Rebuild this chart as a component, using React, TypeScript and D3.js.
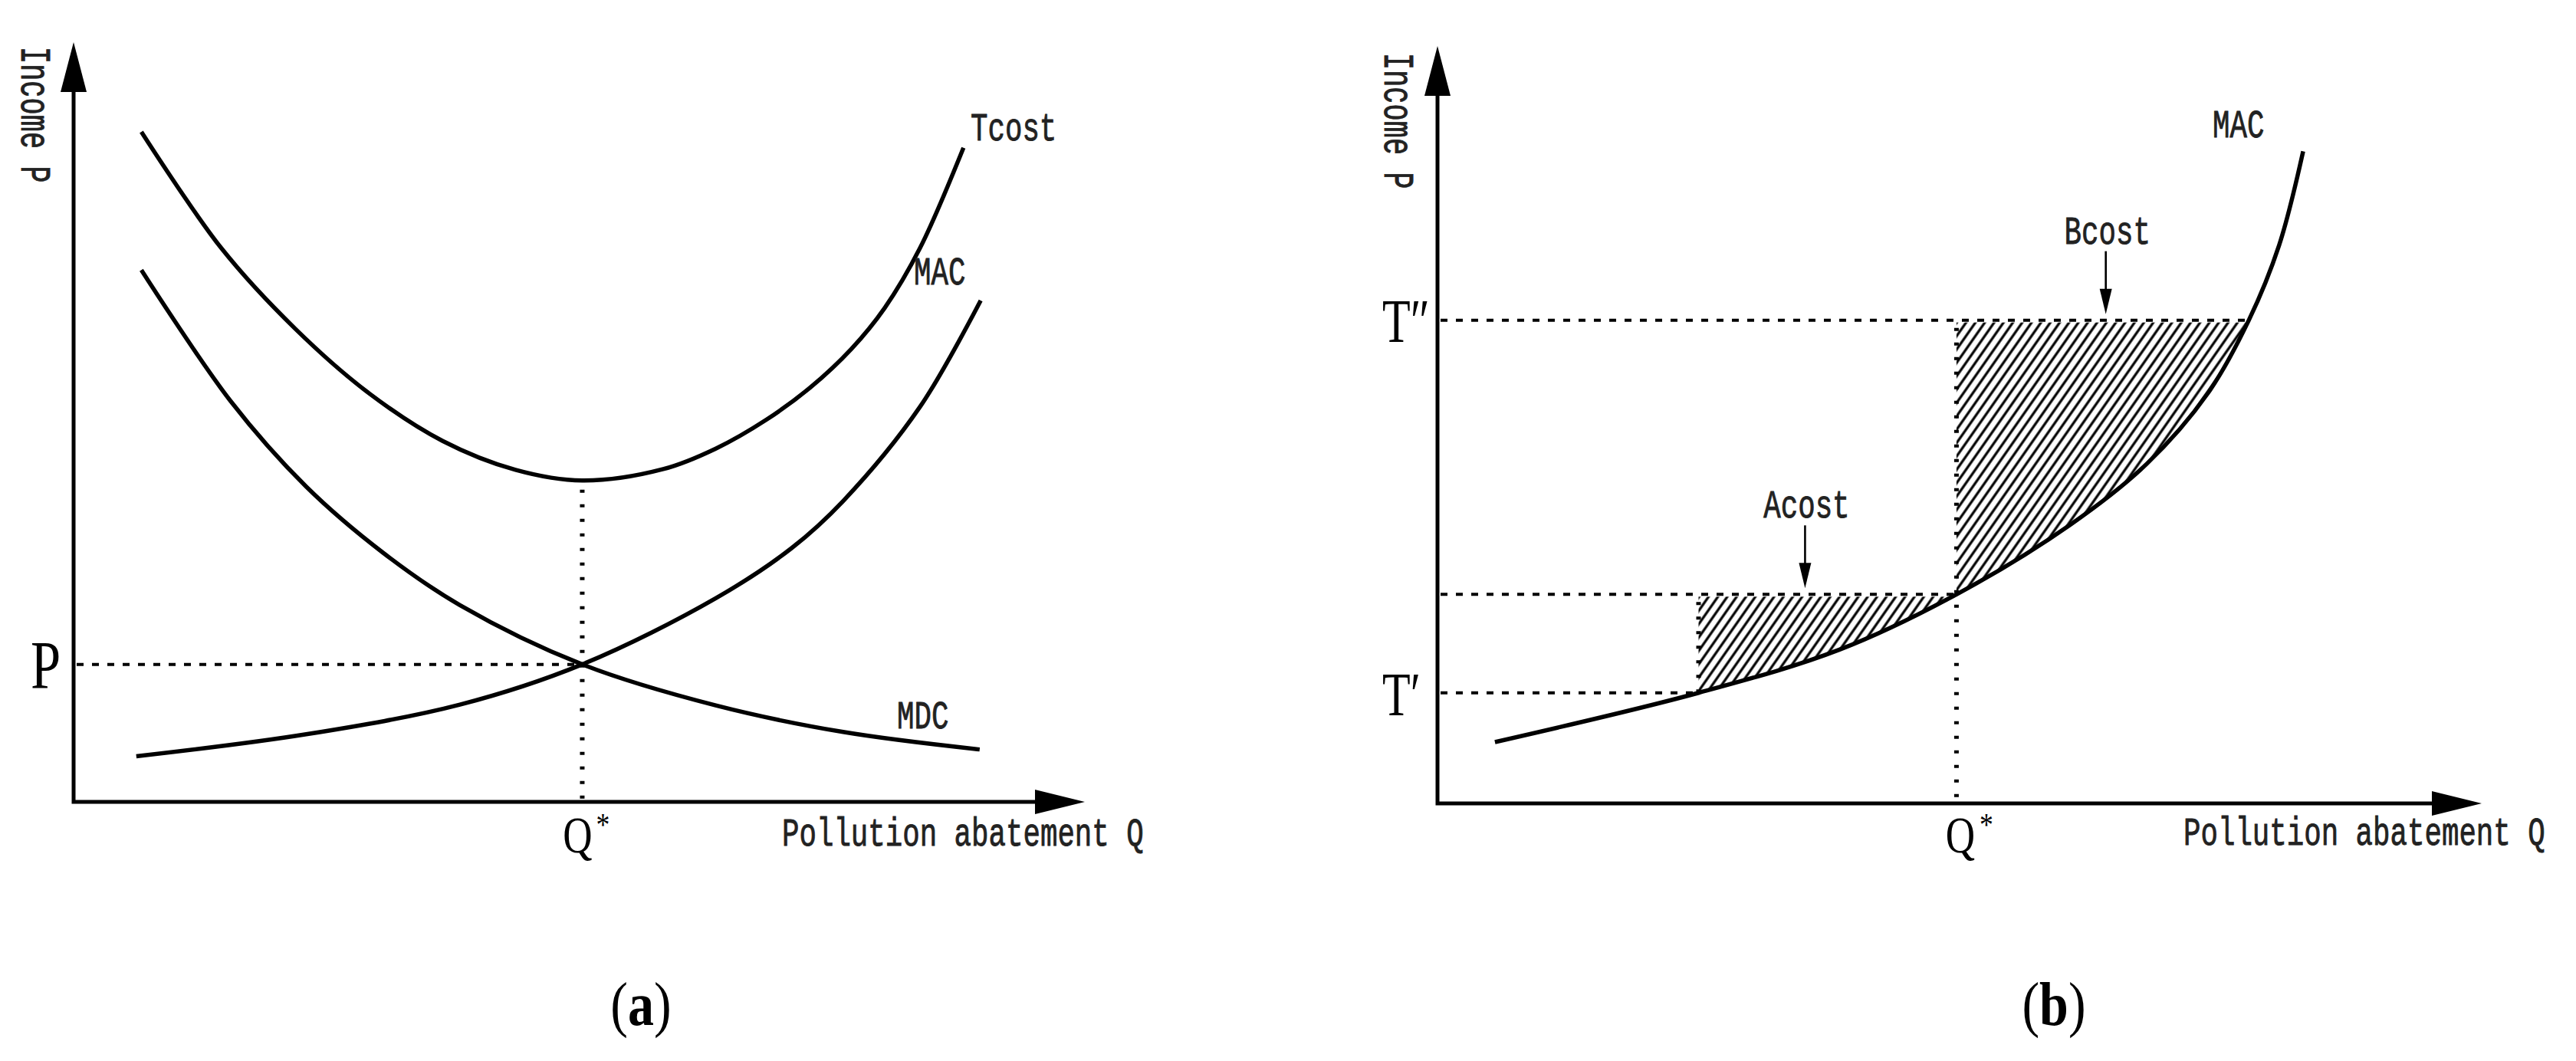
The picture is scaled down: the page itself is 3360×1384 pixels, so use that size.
import React from 'react';
import * as d3 from 'd3';

const W = 3360;
const H = 1384;

// ---------- Panel (a) data (Q: 0-100 along axis, P: 0-100 up axis) ----------
const tcostA = [
  { q: 6.7, p: 88.2 }, { q: 14.6, p: 72.9 }, { q: 21.9, p: 62.3 }, { q: 29.2, p: 53.8 },
  { q: 36.5, p: 47.5 }, { q: 43.7, p: 43.7 }, { q: 50.3, p: 42.3 }, { q: 58.3, p: 43.8 },
  { q: 63.5, p: 46.5 }, { q: 68.5, p: 50.3 }, { q: 72.9, p: 54.6 }, { q: 76.9, p: 59.6 },
  { q: 80.2, p: 65.0 }, { q: 83.7, p: 72.9 }, { q: 88.0, p: 86.1 },
];
const macA = [
  { q: 6.2, p: 6.0 }, { q: 23.0, p: 8.9 }, { q: 38.2, p: 12.8 }, { q: 50.3, p: 18.1 },
  { q: 63.5, p: 26.8 }, { q: 71.0, p: 33.4 }, { q: 76.1, p: 39.6 }, { q: 83.7, p: 52.0 },
  { q: 89.7, p: 66.0 },
];
const mdcA = [
  { q: 6.7, p: 70.0 }, { q: 15.5, p: 52.8 }, { q: 23.0, p: 41.5 }, { q: 30.6, p: 32.8 },
  { q: 38.2, p: 25.9 }, { q: 50.3, p: 18.1 }, { q: 63.5, p: 12.7 }, { q: 76.1, p: 9.2 },
  { q: 89.6, p: 6.9 },
];
const qStarA = 50.3;
const pStarA = 18.1;
const tcostMinA = 42.3;

// ---------- Panel (b) data ----------
const macB = [
  { q: 5.5, p: 8.1 }, { q: 25.0, p: 14.6 }, { q: 38.5, p: 20.3 }, { q: 49.7, p: 27.6 },
  { q: 60.6, p: 36.8 }, { q: 67.9, p: 44.8 }, { q: 73.8, p: 54.2 }, { q: 77.7, p: 63.8 },
  { q: 80.6, p: 73.7 }, { q: 82.9, p: 86.1 },
];
const tPrimeB = { q: 25.0, p: 14.6 };
const qStarB = { q: 49.7, p: 27.6 };
const tDoubleB = { q: 77.7, p: 63.8 };
const costAreas = [
  { label: 'Acost', from: tPrimeB, to: qStarB, arrowQ: 35.2 },
  { label: 'Bcost', from: qStarB, to: tDoubleB, arrowQ: 64.0 },
];

const frameA = { x0: 96, x1: 1415, y0: 1046, y1: 55 };
const frameB = { x0: 1875, x1: 3237, y0: 1048, y1: 60 };

const MONO = '"Liberation Mono", "DejaVu Sans Mono", monospace';
const SERIF = '"Liberation Serif", "DejaVu Serif", serif';
const CURVE_FACTORY = d3.curveCatmullRom.alpha(0.5);

type TxtProps = {
  x: number; y: number; size: number; sx?: number; family?: string; weight?: string | number;
  anchor?: 'start' | 'middle' | 'end'; rotate?: number; fill?: string; thick?: number; children: React.ReactNode;
};
function Txt({ x, y, size, sx = 0.72, family = MONO, weight = 'normal', anchor = 'start', rotate = 0, fill = '#222', thick = 0.9, children }: TxtProps) {
  return (
    <text
      transform={`translate(${x},${y}) rotate(${rotate}) scale(${sx},1)`}
      fontFamily={family}
      fontSize={size}
      fontWeight={weight}
      textAnchor={anchor}
      fill={fill}
      stroke={thick > 0 ? fill : 'none'}
      strokeWidth={thick}
    >
      {children}
    </text>
  );
}

function Axes({ x, y }: { x: d3.ScaleLinear<number, number>; y: d3.ScaleLinear<number, number> }) {
  const ah = 65, aw = 17;
  return (
    <g>
      <path
        d={`M${x(0)},${y(100) + ah - 4} V${y(0)} H${x(100) - ah + 4}`}
        fill="none" stroke="#000" strokeWidth={5} strokeLinejoin="miter"
      />
      <polygon points={`${x(0)},${y(100)} ${x(0) - aw},${y(100) + ah} ${x(0) + aw},${y(100) + ah}`} fill="#000" />
      <polygon points={`${x(100)},${y(0)} ${x(100) - ah},${y(0) - aw + 1} ${x(100) - ah},${y(0) + aw - 1}`} fill="#000" />
    </g>
  );
}

const DASH_H = { stroke: '#000', strokeWidth: 4, strokeDasharray: '9 11' };
const DOT_V = { stroke: '#000', strokeWidth: 6, strokeDasharray: '4 15' };
const CURVE = { fill: 'none', stroke: '#000', strokeWidth: 5.5 };

function PanelA() {
  const x = d3.scaleLinear([0, 100], [frameA.x0, frameA.x1]);
  const y = d3.scaleLinear([0, 100], [frameA.y0, frameA.y1]);
  const line = d3.line<{ q: number; p: number }>().x(d => x(d.q)).y(d => y(d.p)).curve(CURVE_FACTORY);
  return (
    <g>
      <line x1={x(0) + 4} x2={x(qStarA)} y1={y(pStarA)} y2={y(pStarA)} {...DASH_H} />
      <line x1={x(qStarA)} x2={x(qStarA)} y1={y(tcostMinA) + 12} y2={y(0)} {...DOT_V} />
      <path d={line(tcostA) || ''} {...CURVE} />
      <path d={line(macA) || ''} {...CURVE} />
      <path d={line(mdcA) || ''} {...CURVE} />
      <Axes x={x} y={y} />
      <Txt x={28} y={61} size={56} rotate={90} sx={0.66}>Income P</Txt>
      <Txt x={1266} y={183} size={52}>Tcost</Txt>
      <Txt x={1192} y={371} size={52}>MAC</Txt>
      <Txt x={1170} y={950} size={52}>MDC</Txt>
      <Txt x={1020} y={1103} size={52}>Pollution abatement Q</Txt>
      <Txt x={40} y={y(pStarA) + 30} size={88} sx={0.8} family={SERIF} fill="#000" thick={0}>P</Txt>
      <Txt x={x(qStarA) - 6} y={1112} size={68} sx={0.78} family={SERIF} anchor="middle" fill="#000" thick={0}>Q</Txt>
      <Txt x={x(qStarA) + 18} y={1090} size={42} sx={0.85} family={SERIF} fill="#000" thick={0}>*</Txt>
      <Txt x={836} y={1337} size={80} sx={0.85} family={SERIF} anchor="middle" fill="#000" thick={0}>
        (<tspan fontWeight="bold">a</tspan>)
      </Txt>
    </g>
  );
}

function PanelB() {
  const x = d3.scaleLinear([0, 100], [frameB.x0, frameB.x1]);
  const y = d3.scaleLinear([0, 100], [frameB.y0, frameB.y1]);
  const line = d3.line<{ q: number; p: number }>().x(d => x(d.q)).y(d => y(d.p)).curve(CURVE_FACTORY);
  const above = d3.area<{ q: number; p: number }>().x(d => x(d.q)).y0(d => y(d.p)).y1(y(100)).curve(CURVE_FACTORY);
  return (
    <g>
      <defs>
        <pattern id="hatch" patternUnits="userSpaceOnUse" width={10} height={10} patternTransform="rotate(35)">
          <line x1={2} y1={0} x2={2} y2={10} stroke="#000" strokeWidth={3.2} />
        </pattern>
        <clipPath id="aboveMacB">
          <path d={above(macB) || ''} />
        </clipPath>
      </defs>
      {costAreas.map(c => (
        <rect
          key={c.label}
          x={x(c.from.q)} width={x(c.to.q) - x(c.from.q)}
          y={y(c.to.p) + 3} height={y(0) - y(c.to.p)}
          fill="url(#hatch)" clipPath="url(#aboveMacB)"
        />
      ))}
      {[tPrimeB, qStarB, tDoubleB].map((t, i) => (
        <line key={i} x1={x(0) + 4} x2={x(t.q)} y1={y(t.p)} y2={y(t.p)} {...DASH_H} />
      ))}
      <line x1={x(tPrimeB.q)} x2={x(tPrimeB.q)} y1={y(qStarB.p) + 10} y2={y(tPrimeB.p)} {...DOT_V} />
      <line x1={x(qStarB.q)} x2={x(qStarB.q)} y1={y(tDoubleB.p) + 10} y2={y(0)} {...DOT_V} />
      <path d={line(macB) || ''} {...CURVE} />
      <Axes x={x} y={y} />
      {costAreas.map(c => {
        const tip = y(c.to.p) - 8;
        const ax = x(c.arrowQ);
        return (
          <g key={c.label + 'lab'}>
            <line x1={ax} x2={ax} y1={tip - 82} y2={tip - 30} stroke="#000" strokeWidth={2.6} />
            <polygon points={`${ax},${tip} ${ax - 8},${tip - 33} ${ax + 8},${tip - 33}`} fill="#000" />
            <Txt x={ax + 2} y={tip - 92} size={52} anchor="middle">{c.label}</Txt>
          </g>
        );
      })}
      <Txt x={1806} y={69} size={56} rotate={90} sx={0.66}>Income P</Txt>
      <Txt x={2886} y={179} size={52}>MAC</Txt>
      <Txt x={2848} y={1102} size={52}>Pollution abatement Q</Txt>
      <Txt x={1803} y={y(tDoubleB.p) + 28} size={80} sx={0.75} family={SERIF} fill="#000" thick={0}>T″</Txt>
      <Txt x={1803} y={y(tPrimeB.p) + 29} size={80} sx={0.75} family={SERIF} fill="#000" thick={0}>T′</Txt>
      <Txt x={x(qStarB.q) + 5} y={1112} size={68} sx={0.78} family={SERIF} anchor="middle" fill="#000" thick={0}>Q</Txt>
      <Txt x={x(qStarB.q) + 30} y={1090} size={42} sx={0.85} family={SERIF} fill="#000" thick={0}>*</Txt>
      <Txt x={2679} y={1337} size={80} sx={0.85} family={SERIF} anchor="middle" fill="#000" thick={0}>
        (<tspan fontWeight="bold">b</tspan>)
      </Txt>
    </g>
  );
}

export default function App() {
  return (
    <svg width={W} height={H} viewBox={`0 0 ${W} ${H}`} style={{ position: 'absolute', left: 0, top: 0, background: '#fff' }}>
      <rect x={0} y={0} width={W} height={H} fill="#fff" />
      <PanelA />
      <PanelB />
    </svg>
  );
}
